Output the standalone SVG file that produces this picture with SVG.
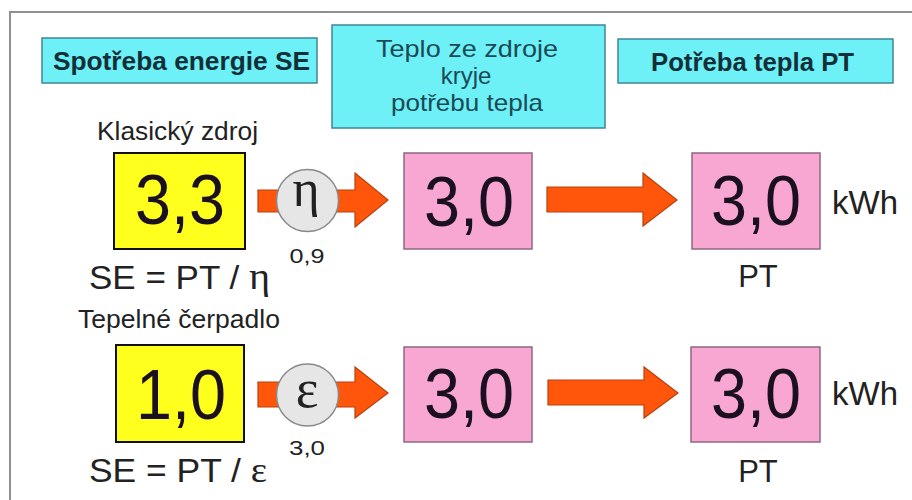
<svg xmlns="http://www.w3.org/2000/svg" width="912" height="500" viewBox="0 0 912 500">
<style>
.hdr{fill:#6ef0f7;stroke:#3f8795;stroke-width:1.5}
.hdrt{font-family:"Liberation Sans",Arial,sans-serif;font-weight:bold;font-size:26px;fill:#13303a}
.midt{font-family:"Liberation Sans",Arial,sans-serif;font-size:24px;fill:#1a4a55;text-anchor:middle}
.yel{fill:#ffff1e;stroke:#111;stroke-width:2}
.pink{fill:#f8a6d2;stroke:#8c6a82;stroke-width:1.5}
.big{font-family:"Liberation Sans",Arial,sans-serif;font-size:70px;fill:#1a1020;text-anchor:middle}
.lbl{font-family:"Liberation Sans",Arial,sans-serif;fill:#222}
.arr{fill:#ff560c;stroke:#b8400e;stroke-width:1.2}
.circ{fill:#e6e6e6;stroke:#8a8a8a;stroke-width:1.5}
.grk{font-family:"Liberation Serif","Times New Roman",serif;fill:#222;text-anchor:middle}
</style>
<rect width="912" height="500" fill="#fff"/>
<path d="M10,500 V12 H912" fill="none" stroke="#909090" stroke-width="2"/>

<g id="connectors">
<polygon class="arr" points="258,190 355,190 355,173 388,200 355,227 355,212 258,212"/>
<polygon class="arr" points="547,187 643,187 643,173 677,200 643,226 643,212 547,212"/>
<polygon class="arr" points="258,382 355,382 355,367 388,393 355,418 355,407 258,407"/>
<polygon class="arr" points="548,380 644,380 644,367 678,393 644,418 644,405 548,405"/>
</g>

<g id="hdr-se">
<rect class="hdr" x="42" y="38" width="275" height="45"/>
<text class="hdrt" x="53" y="70" textLength="257" lengthAdjust="spacingAndGlyphs">Spotřeba energie SE</text>
</g>
<g id="hdr-mid">
<rect class="hdr" x="332" y="25" width="273" height="103"/>
<text class="midt" x="467" y="57" textLength="182" lengthAdjust="spacingAndGlyphs">Teplo ze zdroje</text>
<text class="midt" x="466" y="84">kryje</text>
<text class="midt" x="467" y="111" textLength="152" lengthAdjust="spacingAndGlyphs">potřebu tepla</text>
</g>
<g id="hdr-pt">
<rect class="hdr" x="618" y="39" width="275" height="44"/>
<text class="hdrt" x="651" y="71" textLength="203" lengthAdjust="spacingAndGlyphs">Potřeba tepla PT</text>
</g>

<g id="row1-label"><text class="lbl" x="97" y="140" font-size="26" textLength="161" lengthAdjust="spacingAndGlyphs">Klasický zdroj</text></g>
<g id="row1-se">
<rect class="yel" x="114" y="153" width="131" height="96"/>
<text class="big" x="180" y="224" textLength="90" lengthAdjust="spacingAndGlyphs">3,3</text>
<text class="lbl" x="89" y="289" font-size="33" textLength="181" lengthAdjust="spacingAndGlyphs">SE = PT / <tspan font-family="Liberation Serif, serif" font-size="38">η</tspan></text>
</g>
<g id="row1-eta">
<circle class="circ" cx="307.5" cy="200.5" r="31"/>
<text class="grk" x="306" y="206" font-size="52">η</text>
<text class="lbl" x="307" y="263" font-size="21" text-anchor="middle" textLength="35" lengthAdjust="spacingAndGlyphs">0,9</text>
</g>
<g id="row1-src">
<rect class="pink" x="404" y="153" width="128" height="96"/>
<text class="big" x="469" y="226" textLength="90" lengthAdjust="spacingAndGlyphs">3,0</text>
</g>
<g id="row1-pt">
<rect class="pink" x="692" y="153" width="128" height="96"/>
<text class="big" x="756" y="225" textLength="90" lengthAdjust="spacingAndGlyphs">3,0</text>
<text class="lbl" x="832" y="214" font-size="33" textLength="66" lengthAdjust="spacingAndGlyphs">kWh</text>
<text class="lbl" x="758" y="287" font-size="31" text-anchor="middle">PT</text>
</g>

<g id="row2-label"><text class="lbl" x="78" y="328" font-size="25" textLength="202" lengthAdjust="spacingAndGlyphs">Tepelné čerpadlo</text></g>
<g id="row2-se">
<rect class="yel" x="116" y="345" width="128" height="97"/>
<text class="big" x="181" y="419" textLength="90" lengthAdjust="spacingAndGlyphs">1,0</text>
<text class="lbl" x="89" y="482" font-size="33" textLength="178" lengthAdjust="spacingAndGlyphs">SE = PT / <tspan font-family="Liberation Serif, serif" font-size="36">ε</tspan></text>
</g>
<g id="row2-eps">
<circle class="circ" cx="307.5" cy="395" r="31"/>
<text class="grk" x="307" y="407" font-size="54">ε</text>
<text class="lbl" x="307" y="455" font-size="21" text-anchor="middle" textLength="36" lengthAdjust="spacingAndGlyphs">3,0</text>
</g>
<g id="row2-src">
<rect class="pink" x="404" y="347" width="128" height="95"/>
<text class="big" x="469" y="418" textLength="90" lengthAdjust="spacingAndGlyphs">3,0</text>
</g>
<g id="row2-pt">
<rect class="pink" x="691" y="347" width="129" height="95"/>
<text class="big" x="756" y="418" textLength="90" lengthAdjust="spacingAndGlyphs">3,0</text>
<text class="lbl" x="832" y="405" font-size="33" textLength="66" lengthAdjust="spacingAndGlyphs">kWh</text>
<text class="lbl" x="758" y="482" font-size="31" text-anchor="middle">PT</text>
</g>
</svg>
